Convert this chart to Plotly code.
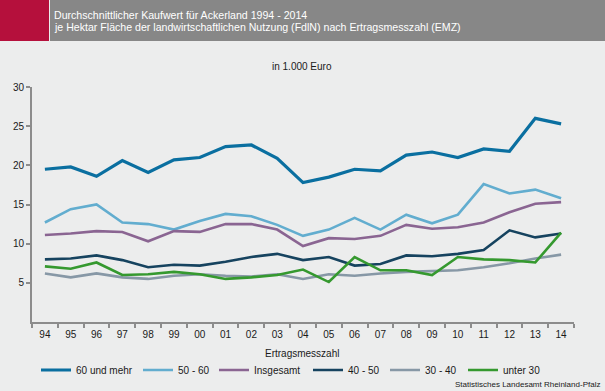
import plotly.graph_objects as go

years = ["94", "95", "96", "97", "98", "99", "00", "01", "02", "03", "04",
         "05", "06", "07", "08", "09", "10", "11", "12", "13", "14"]

s60_und_mehr = [19.5, 19.8, 18.6, 20.6, 19.1, 20.7, 21.0, 22.4, 22.6, 20.9, 17.8,
                18.5, 19.5, 19.3, 21.3, 21.7, 21.0, 22.1, 21.8, 26.0, 25.3]
s50_60 = [12.7, 14.4, 15.0, 12.7, 12.5, 11.8, 12.9, 13.8, 13.5, 12.4, 11.0,
          11.8, 13.3, 11.8, 13.7, 12.6, 13.7, 17.6, 16.4, 16.9, 15.8]
insgesamt = [11.1, 11.3, 11.6, 11.5, 10.3, 11.6, 11.5, 12.5, 12.5, 11.8, 9.7,
             10.7, 10.6, 11.0, 12.4, 11.9, 12.1, 12.7, 14.0, 15.1, 15.3]
s40_50 = [8.0, 8.1, 8.5, 7.9, 7.0, 7.3, 7.2, 7.7, 8.3, 8.7, 7.9,
          8.3, 7.2, 7.4, 8.5, 8.4, 8.7, 9.2, 11.7, 10.8, 11.3]
s30_40 = [6.2, 5.7, 6.2, 5.7, 5.5, 5.9, 6.1, 5.9, 5.8, 6.1, 5.5,
          6.1, 5.9, 6.2, 6.4, 6.5, 6.6, 7.0, 7.5, 8.1, 8.6]
unter_30 = [7.1, 6.8, 7.6, 6.0, 6.1, 6.4, 6.1, 5.5, 5.7, 6.0, 6.7,
            5.1, 8.3, 6.6, 6.6, 6.0, 8.3, 8.0, 7.9, 7.6, 11.4]

series_names = ["60 und mehr", "50 - 60", "Insgesamt", "40 - 50", "30 - 40", "unter 30"]
series_values = [s60_und_mehr, s50_60, insgesamt, s40_50, s30_40, unter_30]
series_colors = ["#0A6FA0", "#62ADCF", "#8A6592", "#16435F", "#8798A6", "#35992F"]
series_widths = [3.2, 2.6, 2.6, 2.6, 2.6, 2.6]
# legend text start positions (px) in the reference
legend_text_x = [76, 178, 254, 348, 425, 503]

FONT = "Arial, Liberation Sans, sans-serif"
W, H = 605, 391
L, R, T, B = 32, 574, 87, 322


def px_x(p):
    return (p - L) / (R - L)


def px_y(p):
    return (B - p) / (B - T)


fig = go.Figure()
legend_layouts = {}
for i, (name, vals, color, w) in enumerate(zip(series_names, series_values,
                                               series_colors, series_widths)):
    key = "legend" if i == 0 else f"legend{i + 1}"
    fig.add_trace(go.Scatter(x=years, y=vals, name=name, mode="lines",
                             line=dict(color=color, width=w), legend=key))
    legend_layouts[key] = dict(
        orientation="h", x=px_x(legend_text_x[i] - 40), y=px_y(370),
        yanchor="middle", xanchor="left", bgcolor="rgba(0,0,0,0)",
        font=dict(size=10, color="#1a1a1a"), itemwidth=30,
        borderwidth=0)

fig.update_layout(
    width=W, height=H, autosize=False,
    margin=dict(l=L, r=W - R, t=T, b=H - B, autoexpand=False),
    paper_bgcolor="#ECEDED", plot_bgcolor="#ECEDED",
    font=dict(family=FONT, size=10, color="#1a1a1a"),
    showlegend=True,
    xaxis=dict(type="category", range=[-0.5, 20.5], showline=True,
               linecolor="#8C8C8C", linewidth=2, ticks="outside",
               tickson="boundaries", ticklen=4, tickcolor="#8C8C8C",
               tickwidth=1.5, showgrid=False, zeroline=False,
               ticklabelstandoff=2, automargin=False,
               tickfont=dict(size=10, color="#1a1a1a")),
    yaxis=dict(range=[0, 30], tickvals=[5, 10, 15, 20, 25, 30], showline=True,
               linecolor="#8C8C8C", linewidth=2, ticks="outside", ticklen=4,
               tickcolor="#8C8C8C", tickwidth=1.5, showgrid=False,
               zeroline=False, automargin=False,
               tickfont=dict(size=10, color="#1a1a1a")),
    shapes=[
        dict(type="rect", xref="paper", yref="paper", x0=px_x(0), x1=px_x(49),
             y0=px_y(41), y1=px_y(0), fillcolor="#B5103C", line=dict(width=0),
             layer="above"),
        dict(type="rect", xref="paper", yref="paper", x0=px_x(50), x1=px_x(605),
             y0=px_y(41), y1=px_y(0), fillcolor="#878787", line=dict(width=0),
             layer="above"),
    ],
    annotations=[
        dict(text="Durchschnittlicher Kaufwert für Ackerland 1994 - 2014",
             xref="paper", yref="paper", x=px_x(52), y=px_y(15),
             xanchor="left", yanchor="middle", showarrow=False,
             font=dict(size=10.6, color="white")),
        dict(text="je Hektar Fläche der landwirtschaftlichen Nutzung (FdlN) nach Ertragsmesszahl (EMZ)",
             xref="paper", yref="paper", x=px_x(52), y=px_y(27.5),
             xanchor="left", yanchor="middle", showarrow=False,
             font=dict(size=10.6, color="white")),
        dict(text="in 1.000 Euro", xref="paper", yref="paper",
             x=px_x(302), y=px_y(66), xanchor="center", yanchor="middle",
             showarrow=False, font=dict(size=10, color="#1a1a1a")),
        dict(text="Ertragsmesszahl", xref="paper", yref="paper",
             x=px_x(302), y=px_y(353), xanchor="center", yanchor="middle",
             showarrow=False, font=dict(size=10, color="#1a1a1a")),
        dict(text="Statistisches Landesamt Rheinland-Pfalz", xref="paper",
             yref="paper", x=px_x(602), y=px_y(384), xanchor="right",
             yanchor="middle", showarrow=False,
             font=dict(size=8, color="#1a1a1a")),
    ],
)
fig.update_layout(**legend_layouts)

fig.write_html("out.html", config={"displayModeBar": False},
               post_script="document.body.style.margin='0';document.body.style.overflow='hidden';")
